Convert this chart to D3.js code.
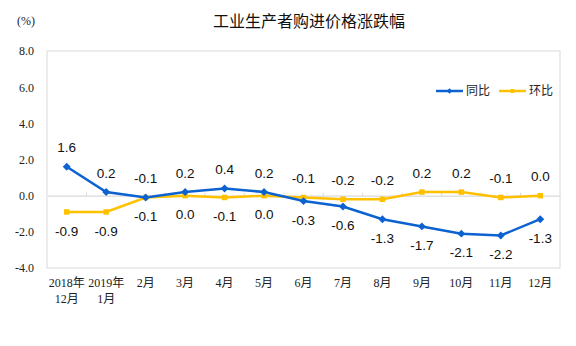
<!DOCTYPE html>
<html><head><meta charset="utf-8">
<script src="https://cdn.jsdelivr.net/npm/d3@7/dist/d3.min.js"></script>
<style>body{margin:0;background:#fff}svg{display:block}</style>
</head><body>
<svg id="c" width="576" height="346"></svg>
<script>
const categories = [["2018年","12月"],["2019年","1月"],["2月"],["3月"],["4月"],["5月"],["6月"],["7月"],["8月"],["9月"],["10月"],["11月"],["12月"]];
const yoy = [1.6, 0.2, -0.1, 0.2, 0.4, 0.2, -0.3, -0.6, -1.3, -1.7, -2.1, -2.2, -1.3];
const mom = [-0.9, -0.9, -0.1, 0.0, -0.1, 0.0, -0.1, -0.2, -0.2, 0.2, 0.2, -0.1, 0.0];
const yTicks = [8, 6, 4, 2, 0, -2, -4];
const seriesNames = ["同比", "环比"];
const title = "工业生产者购进价格涨跌幅";
const unit = "(%)";

const BLUE = "#0b62d0", YELLOW = "#ffc000";
const fmt = v => d3.format(".1f")(v).replace("−", "-");
const svg = d3.select("#c");
const L = 47, R = 560, T = 51, B = 268;
const x = d3.scaleBand().domain(d3.range(categories.length)).range([L, R]).padding(0);
const y = d3.scaleLinear().domain([-4, 8]).range([B, T]);
const serif = "'Liberation Serif','Times New Roman','Noto Sans CJK SC',serif";
const sans = "'Liberation Sans',Arial,'Noto Sans CJK SC',sans-serif";

// frame
svg.append("rect").attr("x", L).attr("y", T).attr("width", R - L).attr("height", B - T)
  .attr("fill", "none").attr("stroke", "#d9d9d9").attr("stroke-width", 1);

// y axis
const ya = svg.append("g").attr("transform", `translate(${L},0)`)
  .call(d3.axisLeft(y).tickValues(yTicks).tickFormat(fmt).tickSize(0).tickPadding(13));
ya.select(".domain").remove();
ya.selectAll("text").attr("font-family", serif).attr("font-size", 12).attr("fill", "#222");

// zero line with ticks
const xa = svg.append("g").attr("transform", `translate(0,${y(0)})`)
  .call(d3.axisBottom(x).tickValues([]).tickSize(0));
xa.select(".domain").attr("stroke", "#d9d9d9").attr("stroke-width", 1.2);
svg.append("g").selectAll("line").data(d3.range(1, categories.length)).join("line")
  .attr("x1", i => x(i)).attr("x2", i => x(i))
  .attr("y1", y(0) - 3).attr("y2", y(0) + 1)
  .attr("stroke", "#d9d9d9");

// x labels
const xl = svg.append("g");
categories.forEach((c, i) => {
  c.forEach((t, k) => {
    xl.append("text").attr("x", x(i) + x.bandwidth() / 2).attr("y", 287 + k * 16)
      .attr("text-anchor", "middle").attr("font-family", serif).attr("font-size", 12)
      .attr("fill", "#222").text(t);
  });
});

// lines
const line = d3.line().x((d, i) => x(i) + x.bandwidth() / 2).y(d => y(d));
svg.append("path").datum(mom).attr("d", line).attr("fill", "none").attr("stroke", YELLOW).attr("stroke-width", 2.5);
svg.append("path").datum(yoy).attr("d", line).attr("fill", "none").attr("stroke", BLUE).attr("stroke-width", 2.5);

const diamond = d3.symbol().type(d3.symbolDiamond2).size(40);
const square = d3.symbol().type(d3.symbolSquare).size(30);
svg.append("g").selectAll("path").data(mom).join("path")
  .attr("d", square).attr("fill", YELLOW)
  .attr("transform", (d, i) => `translate(${x(i) + x.bandwidth() / 2},${y(d)})`);
svg.append("g").selectAll("path").data(yoy).join("path")
  .attr("d", diamond).attr("fill", BLUE)
  .attr("transform", (d, i) => `translate(${x(i) + x.bandwidth() / 2},${y(d)})`);

// data labels: higher series above, lower below
const lab = svg.append("g").attr("font-family", sans).attr("font-size", 13.5).attr("fill", "#111").attr("text-anchor", "middle");
yoy.forEach((v, i) => {
  const m = mom[i];
  const blueTop = i < 6;
  const top = blueTop ? v : m, bot = blueTop ? m : v;
  const cx = x(i) + x.bandwidth() / 2;
  lab.append("text").attr("x", cx).attr("y", y(top) - 19).attr("dy", "0.35em").text(fmt(top));
  lab.append("text").attr("x", cx).attr("y", y(bot) + 19).attr("dy", "0.35em").text(fmt(bot));
});

// title and unit
svg.append("text").attr("x", 309).attr("y", 27).attr("text-anchor", "middle")
  .attr("font-family", "'Noto Sans CJK SC',sans-serif").attr("font-size", 16).attr("fill", "#111").text(title);
svg.append("text").attr("x", 26).attr("y", 25).attr("text-anchor", "middle")
  .attr("font-family", serif).attr("font-size", 12).attr("fill", "#222").text(unit);

// legend
const leg = svg.append("g");
const legItems = [{n: seriesNames[0], c: BLUE, s: diamond, x: 436}, {n: seriesNames[1], c: YELLOW, s: square, x: 499}];
legItems.forEach(it => {
  leg.append("line").attr("x1", it.x).attr("x2", it.x + 27).attr("y1", 91).attr("y2", 91)
    .attr("stroke", it.c).attr("stroke-width", 2.5);
  leg.append("path").attr("d", it.s).attr("fill", it.c).attr("transform", `translate(${it.x + 13.5},91) scale(0.7)`);
  leg.append("text").attr("x", it.x + 30).attr("y", 91).attr("dy", "0.35em")
    .attr("font-family", "'Noto Sans CJK SC',sans-serif").attr("font-size", 12).attr("fill", "#222").text(it.n);
});
</script>
</body></html>
